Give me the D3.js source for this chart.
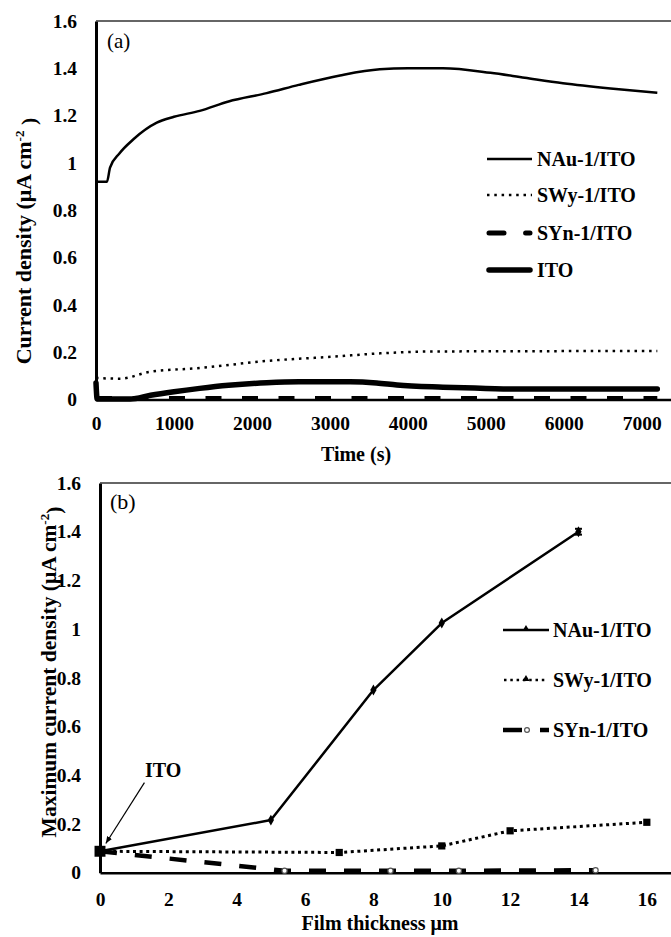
<!DOCTYPE html>
<html><head><meta charset="utf-8">
<script src="https://cdn.jsdelivr.net/npm/d3@7"></script>
<style>
body{margin:0;background:#fff}
svg{display:block}
text{font-family:"Liberation Serif","Times New Roman",serif;fill:#000}
</style>
</head><body>
<svg id="c" width="671" height="937"></svg>
<script>
// ---------- Panel (a): current density vs time ----------
const timeTicks = [0, 1000, 2000, 3000, 4000, 5000, 6000, 7000];
const densTicks = [0, 0.2, 0.4, 0.6, 0.8, 1, 1.2, 1.4, 1.6];
const densLabels = ["0", "0.2", "0.4", "0.6", "0.8", "1", "1.2", "1.4", "1.6"];

const nauTime    = [0, 140, 180, 300, 480, 780, 1000, 1330, 1700, 2190, 2600, 3130, 3640, 4000, 4450, 5060, 5500, 5990, 6600, 7200];
const nauCurrent = [0.92, 0.92, 0.98, 1.04, 1.10, 1.17, 1.195, 1.22, 1.26, 1.295, 1.33, 1.37, 1.396, 1.40, 1.40, 1.381, 1.36, 1.337, 1.315, 1.297];
const swyTime    = [0, 310, 690, 1330, 2190, 3040, 3640, 4320, 7200];
const swyCurrent = [0.091, 0.088, 0.117, 0.133, 0.163, 0.181, 0.195, 0.203, 0.205];
const synTime    = [0, 7200];
const synCurrent = [0.004, 0.004];
const itoTime    = [0, 15, 440, 700, 1000, 1330, 1700, 2190, 2600, 3260, 3600, 3860, 4450, 5000, 5400, 7200];
const itoCurrent = [0.07, 0.002, 0.002, 0.018, 0.033, 0.047, 0.06, 0.071, 0.075, 0.075, 0.07, 0.061, 0.052, 0.047, 0.044, 0.044];
const legendA = ["NAu-1/ITO", "SWy-1/ITO", "SYn-1/ITO", "ITO"];

// ---------- Panel (b): maximum current density vs film thickness ----------
const thickTicks = [0, 2, 4, 6, 8, 10, 12, 14, 16];
const nauThick = [0, 5, 8, 10, 14];
const nauMax   = [0.088, 0.216, 0.75, 1.025, 1.40];
const nauErr   = [0, 0, 0, 0, 0.012];
const swyThick = [0, 7, 10, 12, 16];
const swyMax   = [0.088, 0.083, 0.11, 0.172, 0.207];
const synThick = [0, 5.4, 8.5, 10.5, 14.5];
const synMax   = [0.088, 0.008, 0.008, 0.008, 0.01];
const itoThick = [0];
const itoMax   = [0.088];
const legendB = ["NAu-1/ITO", "SWy-1/ITO", "SYn-1/ITO"];

const svg = d3.select("#c");
const zip = (xs, ys) => xs.map((x, i) => [x, ys[i]]);
const TICKF = "19.5px";

const sty = {
  nauA: {w: 2.5, dash: null},
  swyA: {w: 2.5, dash: "2.5,4.8"},
  synA: {w: 5, dash: "16,20.5"},
  itoA: {w: 5.5, dash: null},
  nauB: {w: 2.5, dash: null},
  swyB: {w: 3, dash: "3,3.6"},
  synB: {w: 4.5, dash: "17,18"}
};

function axes(g, x, y, xt, yt, ylab, xpad) {
  const xa = g.append("g").attr("transform", `translate(0,${y.range()[0]})`)
    .call(d3.axisBottom(x).tickValues(xt).tickSize(0).tickPadding(xpad).tickFormat(d3.format("d")));
  const ya = g.append("g").attr("transform", `translate(${x.range()[0]},0)`)
    .call(d3.axisLeft(y).tickValues(yt).tickSize(0).tickPadding(19).tickFormat((d, i) => ylab[i]));
  [xa, ya].forEach(a => a.selectAll("text").attr("font-size", TICKF).attr("font-weight", "bold")
    .attr("font-family", '"Liberation Serif","Times New Roman",serif').attr("fill", "#000"));
  xa.select(".domain").attr("stroke", "#000").attr("stroke-width", 2.5);
  ya.select(".domain").attr("stroke", "#000").attr("stroke-width", 3);
  g.append("line").attr("x1", x.range()[0]).attr("x2", 671)
    .attr("y1", y(yt[yt.length - 1])).attr("y2", y(yt[yt.length - 1]))
    .attr("stroke", "#333").attr("stroke-width", 1.6);
}

function drawLine(g, x, y, pts, s, curve) {
  const p = g.append("path").datum(pts)
    .attr("d", d3.line().curve(curve || d3.curveLinear).x(d => x(d[0])).y(d => y(d[1])))
    .attr("fill", "none").attr("stroke", "#000").attr("stroke-width", s.w)
    .attr("stroke-linejoin", "round");
  if (s.dash) p.attr("stroke-dasharray", s.dash);
  return p;
}

// ================= Panel (a) =================
const xA = d3.scaleLinear().domain([0, 7500]).range([96, 680.7]);
const yA = d3.scaleLinear().domain([0, 1.6]).range([399.5, 21]);
const gA = svg.append("g");
axes(gA, xA, yA, timeTicks, densTicks, densLabels, 17);

drawLine(gA, xA, yA, zip(swyTime, swyCurrent), sty.swyA, d3.curveMonotoneX);
drawLine(gA, xA, yA, zip(synTime, synCurrent), sty.synA);
drawLine(gA, xA, yA, zip(itoTime, itoCurrent), sty.itoA, d3.curveMonotoneX).attr("stroke-linecap", "round");
drawLine(gA, xA, yA, zip(nauTime, nauCurrent), sty.nauA, d3.curveMonotoneX);

gA.append("text").attr("x", 107).attr("y", 48).attr("font-size", "21px").text("(a)");

const tA = gA.append("text").attr("transform", "translate(31,241) rotate(-90)")
  .attr("text-anchor", "middle").attr("font-size", "22px").attr("font-weight", "bold");
tA.append("tspan").text("Current density  (μA cm");
tA.append("tspan").attr("dy", "-0.55em").attr("font-size", "13px").text("-2");
tA.append("tspan").attr("dy", "0.55em").text(" )");
gA.append("text").attr("x", 356).attr("y", 461).attr("text-anchor", "middle")
  .attr("font-size", "20px").attr("font-weight", "bold").text("Time (s)");

const legAy = [159, 195, 233, 270];
const legAsty = [sty.nauA, sty.swyA, {w: 5, dash: "15,21.6"}, sty.itoA];
legendA.forEach((name, i) => {
  const l = gA.append("line").attr("x1", 487).attr("x2", 532).attr("y1", legAy[i]).attr("y2", legAy[i])
    .attr("stroke", "#000").attr("stroke-width", legAsty[i].w);
  if (legAsty[i].dash) l.attr("stroke-dasharray", legAsty[i].dash);
  if (i === 3 || i === 2) l.attr("stroke-linecap", "round").attr("x1", 489).attr("x2", 530);
  gA.append("text").attr("x", 537).attr("y", legAy[i] + 7).attr("font-size", "20px")
    .attr("font-weight", "bold").text(name);
});

// ================= Panel (b) =================
const xB = d3.scaleLinear().domain([0, 17]).range([100, 681]);
const yB = d3.scaleLinear().domain([0, 1.6]).range([872.7, 483]);
const gB = svg.append("g");
axes(gB, xB, yB, thickTicks, densTicks, densLabels, 19);

drawLine(gB, xB, yB, zip(synThick, synMax), sty.synB);
gB.append("g").selectAll("circle").data(zip(synThick, synMax).slice(1)).join("circle")
  .attr("cx", d => xB(d[0])).attr("cy", d => yB(d[1])).attr("r", 2.6)
  .attr("fill", "#fff").attr("stroke", "#555").attr("stroke-width", 1.2);
drawLine(gB, xB, yB, zip(swyThick, swyMax), sty.swyB);
gB.append("g").selectAll("path").data(zip(swyThick, swyMax).slice(1)).join("path")
  .attr("d", d3.symbol(d3.symbolSquare, 52)())
  .attr("transform", d => `translate(${xB(d[0])},${yB(d[1])})`).attr("fill", "#000");
drawLine(gB, xB, yB, zip(nauThick, nauMax), sty.nauB);
gB.append("g").selectAll("path").data(zip(nauThick, nauMax).slice(1)).join("path")
  .attr("d", d3.symbol(d3.symbolDiamond, 34)())
  .attr("transform", d => `translate(${xB(d[0])},${yB(d[1])})`).attr("fill", "#000");
nauThick.forEach((t, i) => {
  if (!nauErr[i]) return;
  const cx = xB(t), y1 = yB(nauMax[i] - nauErr[i]), y2 = yB(nauMax[i] + nauErr[i]);
  gB.append("line").attr("x1", cx).attr("x2", cx).attr("y1", y1).attr("y2", y2).attr("stroke", "#000").attr("stroke-width", 2.5);
  [y1, y2].forEach(yy => gB.append("line").attr("x1", cx - 3.5).attr("x2", cx + 3.5).attr("y1", yy).attr("y2", yy)
    .attr("stroke", "#000").attr("stroke-width", 2));
});
gB.append("g").selectAll("path").data(zip(itoThick, itoMax)).join("path")
  .attr("d", d3.symbol(d3.symbolSquare, 120)())
  .attr("transform", d => `translate(${xB(d[0])},${yB(d[1])})`).attr("fill", "#000");

svg.append("defs").append("marker").attr("id", "ah").attr("viewBox", "0 0 10 10")
  .attr("refX", 10).attr("refY", 5).attr("markerWidth", 7).attr("markerHeight", 7)
  .attr("orient", "auto").attr("markerUnits", "userSpaceOnUse")
  .append("path").attr("d", "M0,1 L10,5 L0,9 z").attr("fill", "#000");
gB.append("line").attr("x1", xB(1.3)).attr("y1", yB(0.37)).attr("x2", xB(0.17)).attr("y2", yB(0.12))
  .attr("stroke", "#000").attr("stroke-width", 1.2).attr("marker-end", "url(#ah)");
gB.append("text").attr("x", xB(1.85)).attr("y", yB(0.393)).attr("text-anchor", "middle")
  .attr("font-size", "20px").attr("font-weight", "bold").text("ITO");

gB.append("text").attr("x", 110).attr("y", 509).attr("font-size", "22px").text("(b)");

const tB = gB.append("text").attr("transform", "translate(56,672) rotate(-90)")
  .attr("text-anchor", "middle").attr("font-size", "21.5px").attr("font-weight", "bold");
tB.append("tspan").text("Maximum current density (μA cm");
tB.append("tspan").attr("dy", "-0.55em").attr("font-size", "13px").text("-2");
tB.append("tspan").attr("dy", "0.55em").text(")");
gB.append("text").attr("x", 380).attr("y", 930).attr("text-anchor", "middle")
  .attr("font-size", "20px").attr("font-weight", "bold").text("Film thickness μm");

const legBy = [630, 680, 730];
gB.append("line").attr("x1", 503).attr("x2", 549).attr("y1", legBy[0]).attr("y2", legBy[0])
  .attr("stroke", "#000").attr("stroke-width", 2.5);
gB.append("path").attr("d", d3.symbol(d3.symbolTriangle, 22)()).attr("transform", `translate(526,${legBy[0] - 1})`);
gB.append("line").attr("x1", 504).attr("x2", 548).attr("y1", legBy[1]).attr("y2", legBy[1])
  .attr("stroke", "#000").attr("stroke-width", 2.5).attr("stroke-dasharray", "2.5,3.8");
gB.append("path").attr("d", d3.symbol(d3.symbolTriangle, 22)()).attr("transform", `translate(526,${legBy[1] - 1})`);
gB.append("line").attr("x1", 503).attr("x2", 549).attr("y1", legBy[2]).attr("y2", legBy[2])
  .attr("stroke", "#000").attr("stroke-width", 4.5).attr("stroke-dasharray", "19,18");
gB.append("circle").attr("cx", 527).attr("cy", legBy[2]).attr("r", 2.4)
  .attr("fill", "#fff").attr("stroke", "#555").attr("stroke-width", 1.2);
legendB.forEach((name, i) => {
  gB.append("text").attr("x", 553).attr("y", legBy[i] + 7).attr("font-size", "20px")
    .attr("font-weight", "bold").text(name);
});
</script>
</body></html>
